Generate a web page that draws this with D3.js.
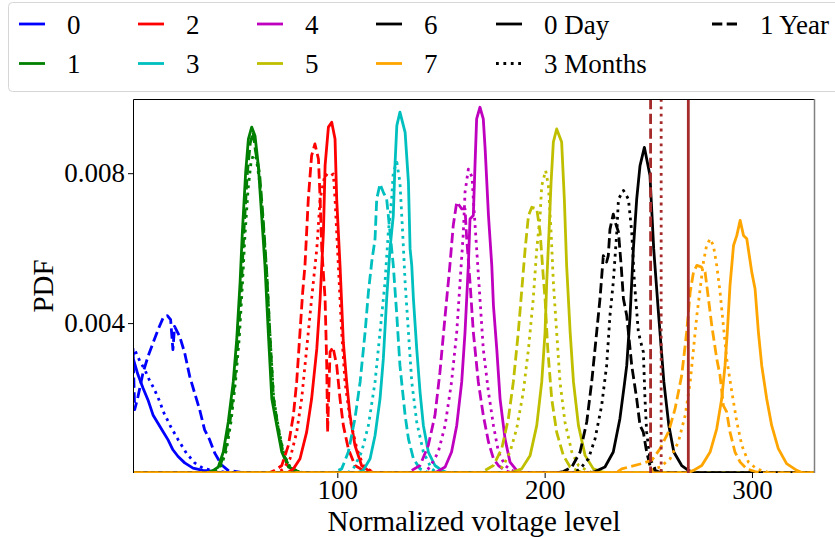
<!DOCTYPE html>
<html lang="en">
<head>
<meta charset="UTF-8">
<title>PDF of normalized voltage level</title>
<script src="https://d3js.org/d3.v7.min.js"></script>
<style>
  body { margin: 0; background: #fff; }
  svg { font-family: "Liberation Serif", "Times New Roman", serif; }
</style>
</head>
<body>
<div id="chart"></div>
<script>
// Normalized voltage level (x) against PDF (y, in units of 1e-3)
const levels = ["0", "1", "2", "3", "4", "5", "6", "7"];
const levelColors = ["#0000ff", "#008000", "#ff0000", "#00bfbf", "#bf00bf", "#bfbf00", "#000000", "#ffa500"];
const ages = ["0 Day", "3 Months", "1 Year"];

// 0 Day (solid), one curve per level
const day0 = [
  [[1.45,3.07],[3.86,2.62],[6.27,2.27],[8.68,1.95],[11.1,1.55],[13.5,1.33],[15.9,1.11],[18.3,0.89],[20.7,0.62],[23.2,0.44],[26.4,0.27],[30.4,0.13],[35.2,0.07],[40.8,0.04]],
  [[40.2,0.07],[42.6,0.16],[45.0,0.56],[47.4,1.36],[49.8,2.43],[51.5,3.58],[53.1,5.09],[54.2,6.43],[55.8,8.03],[57.1,8.91],[58.7,9.23],[60.3,9.0],[61.9,8.2],[63.5,6.87],[65.1,5.54],[66.7,3.76],[68.4,1.98],[70.8,1.27],[73.2,0.56],[76.4,0.16],[79.6,0.07]],
  [[78.8,0.11],[82.0,0.38],[85.2,1.09],[87.6,1.98],[90.1,3.31],[91.7,4.65],[93.3,6.43],[94.1,8.2],[95.7,9.23],[97.3,9.36],[98.9,8.91],[99.7,7.31],[101.3,5.54],[102.9,3.49],[104.5,2.43],[106.1,1.54],[108.5,0.74],[111.7,0.20],[114.9,0.07]],
  [[112.5,0.07],[115.8,0.38],[118.2,1.0],[120.6,1.98],[122.2,3.05],[123.8,4.65],[125.4,5.98],[127.0,6.87],[127.8,8.2],[128.7,9.27],[130.2,9.63],[132.7,9.09],[134.3,7.76],[135.1,5.98],[135.9,5.54],[136.7,4.65],[138.3,3.31],[139.9,2.16],[141.5,1.27],[143.9,0.56],[147.1,0.20],[150.4,0.07]],
  [[147.9,0.03],[152.0,0.16],[155.1,0.56],[157.6,1.27],[160.0,2.43],[161.6,3.76],[163.2,5.54],[164.0,6.78],[165.6,6.87],[166.4,8.2],[167.2,9.45],[168.8,9.76],[170.4,9.45],[171.3,8.65],[172.9,6.87],[174.5,5.54],[175.3,4.47],[176.9,3.31],[178.5,1.98],[180.9,0.91],[183.3,0.29],[186.5,0.07]],
  [[184.9,0.03],[188.9,0.11],[193.0,0.47],[196.2,1.27],[198.6,2.43],[200.2,3.76],[201.0,5.09],[202.1,6.43],[203.1,7.76],[204.2,8.83],[205.8,9.18],[208.2,8.83],[209.5,7.31],[210.6,5.54],[212.3,3.76],[213.9,2.43],[216.3,1.27],[219.5,0.47],[223.5,0.11],[227.6,0.03]],
  [[224.3,0.04],[229.1,0.16],[233.1,0.56],[236.3,1.45],[238.4,2.34],[239.6,2.87],[241.2,4.2],[242.8,5.98],[244.4,7.31],[246.0,8.2],[248.1,8.69],[250.8,7.94],[252.6,5.98],[255.0,4.2],[257.5,2.43],[259.9,1.27],[262.3,0.56],[266.1,0.2],[269.3,0.07]],
  [[271.8,0.07],[275.8,0.2],[279.8,0.56],[283.0,1.18],[285.4,1.98],[287.0,2.87],[288.1,3.76],[289.4,5.0],[291.1,6.07],[292.7,6.34],[294.3,6.74],[295.9,6.34],[297.5,6.25],[299.9,5.36],[301.5,4.91],[303.1,3.76],[304.7,2.87],[307.1,1.98],[309.5,1.27],[312.7,0.65],[316.7,0.25],[321.6,0.07]]
];

// 3 Months (dotted)
const months3 = [
  [[1.45,3.15],[2.25,3.29],[4.8,2.98],[7.2,2.75],[9.2,2.5],[11.6,2.25],[14.0,1.95],[16.4,1.6],[19.6,1.24],[23.2,0.89],[27.2,0.53],[31.2,0.27],[35.2,0.13],[39.2,0.07],[44.1,0.04]],
  [[41.5,0.07],[44.0,0.2],[46.5,0.6],[48.8,1.4],[51.0,2.5],[52.7,3.6],[54.2,5.0],[55.4,6.3],[57.0,7.6],[58.4,8.3],[59.6,8.5],[60.9,8.4],[62.7,7.7],[64.3,6.6],[66.0,5.3],[67.6,3.6],[69.3,2.0],[71.6,1.2],[74.2,0.5],[77.3,0.15],[80.8,0.05]],
  [[74.0,0.11],[77.2,0.38],[80.4,1.09],[82.8,1.98],[85.2,3.31],[87.6,4.65],[90.1,5.98],[91.7,7.31],[94.1,7.98],[96.0,7.9],[98.1,7.98],[98.9,7.31],[100.5,5.54],[102.1,3.76],[103.7,2.43],[106.1,1.45],[109.4,0.65],[112.5,0.20],[115.8,0.07]],
  [[107.7,0.11],[111.7,0.56],[115.0,1.27],[118.2,2.43],[120.6,3.76],[123.0,5.09],[124.6,6.43],[126.2,7.31],[127.0,8.03],[128.7,8.29],[130.2,7.76],[131.5,6.43],[132.7,5.09],[134.3,3.76],[135.9,2.43],[138.3,1.36],[141.5,0.56],[145.5,0.11]],
  [[144.7,0.16],[148.7,0.56],[152.0,1.27],[155.1,2.43],[157.6,3.76],[159.2,5.09],[160.8,6.43],[161.6,7.49],[163.2,8.11],[165.0,7.9],[165.6,7.31],[167.2,5.98],[168.8,4.65],[170.4,3.31],[172.9,2.16],[175.3,1.27],[177.7,0.56],[180.9,0.2],[184.1,0.07]],
  [[180.1,0.2],[183.3,0.56],[186.5,1.18],[189.7,2.16],[192.2,3.31],[194.5,4.65],[196.2,5.98],[197.8,6.87],[198.6,7.67],[200.5,8.07],[201.8,7.67],[203.1,6.43],[204.2,5.09],[205.8,3.76],[207.4,2.43],[209.8,1.36],[213.1,0.56],[216.3,0.2],[220.3,0.07]],
  [[217.1,0.11],[221.1,0.38],[224.3,0.91],[227.5,1.8],[229.9,2.87],[231.5,4.2],[233.1,5.09],[234.8,6.43],[235.6,7.31],[238.0,7.54],[240.4,7.31],[242.0,6.43],[243.3,5.09],[245.2,3.76],[246.8,3.4],[247.6,3.23],[248.4,1.98],[249.2,1.09],[250.8,0.38],[253.3,0.11],[255.7,0.04]],
  [[250.9,0.07],[255.7,0.16],[260.5,0.38],[264.5,0.83],[267.8,1.54],[270.2,2.43],[271.8,3.31],[273.4,4.2],[275.0,4.91],[276.6,5.63],[278.1,6.07],[279.8,6.25],[281.4,6.07],[283.0,5.54],[284.6,4.83],[286.2,3.94],[287.8,3.05],[290.3,2.16],[292.7,1.36],[295.1,0.74],[298.3,0.29],[302.3,0.11],[306.3,0.04]]
];

// 1 Year (dashed)
const year1 = [
  [[1.45,3.33],[2.25,1.69],[3.86,2.04],[6.27,2.67],[8.68,3.11],[11.1,3.47],[13.5,3.82],[15.9,4.13],[18.0,4.20],[19.6,4.09],[20.7,3.29],[21.5,3.91],[24.0,3.64],[26.4,3.20],[28.8,2.58],[31.2,2.13],[33.6,1.69],[36.0,1.15],[38.4,0.89],[40.9,0.53],[44.1,0.22],[47.3,0.07],[52.1,0.03]],
  [[41.0,0.07],[43.5,0.2],[46.0,0.6],[48.3,1.4],[50.6,2.5],[52.3,3.7],[53.8,5.1],[55.0,6.5],[56.6,8.0],[58.0,8.8],[59.4,9.1],[60.5,8.6],[62.5,8.0],[64.2,6.8],[65.9,5.4],[67.5,3.7],[69.2,2.0],[71.5,1.2],[74.0,0.5],[77.0,0.15],[80.5,0.05]],
  [[69.9,0.07],[73.2,0.2],[76.4,0.74],[78.8,1.54],[80.4,2.43],[82.0,3.76],[83.3,4.83],[84.4,5.54],[86.0,7.31],[87.6,8.47],[89.2,8.78],[90.9,8.38],[91.7,7.31],[92.5,5.98],[94.1,4.65],[94.9,2.87],[95.3,1.09],[96.5,3.23],[97.9,3.36],[99.7,2.87],[101.3,1.98],[102.9,1.27],[105.3,0.65],[108.5,0.2],[112.5,0.07]],
  [[98.9,0.03],[102.1,0.11],[105.3,0.56],[108.5,1.45],[111.0,2.43],[113.4,3.76],[115.0,4.83],[116.6,5.63],[118.2,6.25],[119.0,7.31],[120.6,7.71],[122.2,7.49],[123.8,7.31],[124.6,6.87],[125.4,6.43],[127.0,5.54],[128.7,4.2],[130.2,2.87],[132.7,1.54],[134.3,0.91],[136.7,0.38],[139.9,0.11],[143.1,0.03]],
  [[135.9,0.07],[139.9,0.2],[143.9,0.74],[147.1,1.54],[149.5,2.69],[152.0,4.2],[154.3,5.54],[155.9,6.6],[157.6,7.23],[160.0,7.05],[161.6,7.05],[162.4,6.25],[164.0,5.09],[165.6,3.76],[168.0,2.43],[170.4,1.54],[172.9,0.83],[175.3,0.38],[177.7,0.2],[180.9,0.07]],
  [[171.3,0.07],[175.3,0.2],[179.3,0.65],[182.5,1.45],[184.9,2.43],[187.3,3.76],[189.0,4.91],[190.6,5.98],[192.2,6.87],[193.8,7.09],[196.2,7.05],[197.8,6.43],[199.3,5.27],[200.2,4.65],[201.5,3.31],[203.4,1.98],[205.8,1.09],[209.0,0.47],[212.3,0.16],[215.5,0.07]],
  [[209.0,0.04],[213.1,0.16],[217.1,0.56],[220.3,1.36],[222.7,2.43],[225.1,3.76],[226.7,4.65],[228.3,5.8],[229.9,5.63],[230.7,5.8],[231.5,6.5],[233.1,6.91],[234.0,6.7],[235.6,6.43],[236.9,5.54],[238.0,4.65],[239.6,4.2],[242.0,2.87],[244.4,1.98],[246.0,1.27],[247.6,1.09],[249.2,0.56],[250.8,0.2],[253.3,0.07]],
  [[237.2,0.11],[246.8,0.25],[251.7,0.34],[255.7,0.65],[259.7,1.09],[262.9,1.71],[266.1,2.6],[268.5,3.76],[270.2,4.83],[271.8,5.36],[273.4,5.54],[275.5,5.5],[277.4,5.36],[279.0,4.65],[280.6,3.94],[283.0,3.05],[284.6,2.6],[286.2,1.8],[287.8,1.63],[289.4,1.09],[291.8,0.56],[294.3,0.29],[297.5,0.11],[301.5,0.04]]
];

// vertical reference lines, one per age
const thresholds = [269.3, 256.2, 251.1];
const xTicks = [100, 200, 300];
const yTicks = [0.004, 0.008];

const W = 835, H = 537;
const margin = { top: 99, right: 20, bottom: 64, left: 133 };
const width = W - margin.left - margin.right;
const height = H - margin.top - margin.bottom;
const tickFont = 27, labelFont = 29, legendFont = 27;
const dashes = [null, "2.8,4.6", "10.3,4.4"];
const refColor = "#a52a2a";

const svg = d3.select("#chart").append("svg")
  .attr("width", W)
  .attr("height", H);

const x = d3.scaleLinear().domain([1.45, 330.4]).range([0, width]);
const y = d3.scaleLinear().domain([0, 0.00998]).range([height, 0]);

svg.append("defs").append("clipPath").attr("id", "plot-clip")
  .append("rect").attr("width", width).attr("height", height);

const g = svg.append("g").attr("transform", `translate(${margin.left},${margin.top})`);

const line = d3.line()
  .x(d => x(d[0]))
  .y(d => y(d[1] * 1e-3));

// the source curves sit on zero over the rest of the range
function withTails(pts) {
  const [x0, x1] = x.domain();
  const out = pts.slice();
  const first = out[0][0], last = out[out.length - 1][0];
  if (first > x0 + 0.5) out.unshift([x0, 0], [first - 3, 0]);
  out.push([last + 3, 0], [x1, 0]);
  return out;
}

const plot = g.append("g").attr("clip-path", "url(#plot-clip)");
const series = [day0, months3, year1];

levels.forEach((lv, i) => {
  series.forEach((s, k) => {
    plot.append("path")
      .datum(withTails(s[i]))
      .attr("fill", "none")
      .attr("stroke", levelColors[i])
      .attr("stroke-width", 2.8)
      .attr("stroke-dasharray", dashes[k])
      .attr("stroke-linejoin", "round")
      .attr("d", line);
  });
});

thresholds.forEach((t, k) => {
  plot.append("line")
    .attr("x1", x(t)).attr("x2", x(t))
    .attr("y1", 0).attr("y2", height)
    .attr("stroke", refColor)
    .attr("stroke-width", 2.8)
    .attr("stroke-dasharray", dashes[k]);
});

// frame
g.append("path")
  .attr("d", `M${width - 0.5},0.5 H0.5 V${height}`)
  .attr("fill", "none")
  .attr("stroke", "#000");
g.append("line")
  .attr("x1", width - 0.5).attr("x2", width - 0.5)
  .attr("y1", 0).attr("y2", height)
  .attr("stroke", "#808080")
  .attr("stroke-width", 1.5);

// axes
const xAxis = g.append("g")
  .attr("transform", `translate(0,${height})`)
  .call(d3.axisBottom(x).tickValues(xTicks).tickFormat(d3.format("d")).tickSize(5).tickSizeOuter(0));
xAxis.select(".domain").remove();
xAxis.selectAll("text")
  .attr("y", 25.5).attr("dy", null)
  .attr("fill", "#000")
  .style("font-size", tickFont + "px")
  .style("font-family", "Liberation Serif, serif");

const yAxis = g.append("g")
  .call(d3.axisLeft(y).tickValues(yTicks).tickFormat(d3.format(".3f")).tickSize(5).tickSizeOuter(0));
yAxis.select(".domain").remove();
yAxis.selectAll("text")
  .attr("x", -8)
  .attr("fill", "#000")
  .style("font-size", tickFont + "px")
  .style("font-family", "Liberation Serif, serif");

svg.append("text")
  .attr("x", margin.left + width / 2)
  .attr("y", 531)
  .attr("text-anchor", "middle")
  .style("font-size", labelFont + "px")
  .text("Normalized voltage level");

svg.append("text")
  .attr("transform", "translate(53,286) rotate(-90)")
  .attr("text-anchor", "middle")
  .style("font-size", labelFont + "px")
  .text("PDF");

// legend
const legend = svg.append("g");
legend.append("rect")
  .attr("x", 8.5).attr("y", 2.5)
  .attr("width", 860).attr("height", 89)
  .attr("rx", 4)
  .attr("fill", "#fff")
  .attr("fill-opacity", 0.8)
  .attr("stroke", "#d6d6d6");

const colX = [19, 138, 257, 376, 496, 712];
const rowY = [24, 63.5];
const entries = levels.map((lv, i) => ({ label: lv, color: levelColors[i], dash: null }))
  .concat(ages.map((a, k) => ({ label: a, color: "#000", dash: dashes[k] })));

entries.forEach((e, n) => {
  const cx = colX[Math.floor(n / 2)], cy = rowY[n % 2];
  legend.append("line")
    .attr("x1", cx).attr("x2", cx + 26)
    .attr("y1", cy).attr("y2", cy)
    .attr("stroke", e.color)
    .attr("stroke-width", 2.8)
    .attr("stroke-dasharray", e.dash);
  legend.append("text")
    .attr("x", cx + 48)
    .attr("y", cy + 9.5)
    .style("font-size", legendFont + "px")
    .text(e.label);
});
</script>
</body>
</html>
